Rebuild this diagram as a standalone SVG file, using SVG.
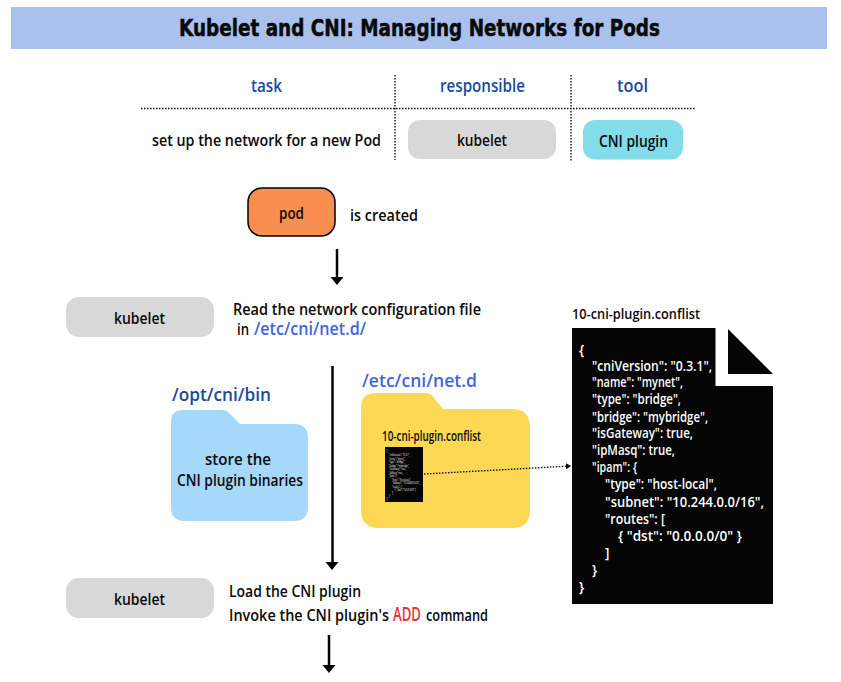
<svg xmlns="http://www.w3.org/2000/svg" width="841" height="682" viewBox="0 0 841 682">
<style>
text{font-family:"Open Sans","Liberation Sans",sans-serif;font-weight:600;fill:#0a0a0a;font-size:16.5px}
.title{font-family:"DejaVu Sans",sans-serif;font-weight:700;font-size:23px;stroke:#000;stroke-width:.5}
.navy{fill:#174a9f;font-size:18px}
.blue{fill:#4264dc;font-size:18px}
.add{fill:#e5333a;font-size:19px}
.code{fill:#fff;font-size:13.5px}
.tiny{fill:#fff;font-size:2.8px;font-weight:400}
.small{font-size:13.5px}
.conn{fill:none;stroke:#000;stroke-width:2.5}
.dot{fill:none;stroke:#111;stroke-width:1.4;stroke-dasharray:1.5 1.5}
</style>
<defs>
<path id="ah" d="M-6.500-8H6.500L0 0Z" fill="#000"/>
<marker id="dothead" markerUnits="userSpaceOnUse" markerWidth="6" markerHeight="6" refX="5" refY="3" orient="auto" viewBox="0 0 6 6"><path d="M0 0L5 3L0 6Z" fill="#000"/></marker>
</defs>
<rect width="841" height="682" fill="#fff"/>
<g id="title"><rect x="11" y="7" width="816" height="42" fill="#a9c1ec"/>
<text class="title" x="179" y="36" textLength="481" lengthAdjust="spacingAndGlyphs">Kubelet and CNI: Managing Networks for Pods</text></g>
<g id="table">
<path class="dot" d="M141 108.500H695M395 75V160M571 75V162"/>
<text class="navy" x="251" y="92" textLength="31" lengthAdjust="spacingAndGlyphs">task</text>
<text class="navy" x="440" y="92" textLength="85" lengthAdjust="spacingAndGlyphs">responsible</text>
<text class="navy" x="617" y="92" textLength="31" lengthAdjust="spacingAndGlyphs">tool</text>
<text x="152" y="146" textLength="229" lengthAdjust="spacingAndGlyphs">set up the network for a new Pod</text>
</g>
<g id="table-kubelet"><rect x="408" y="120" width="148" height="39" rx="12" fill="#d8d8d8"/><text x="457" y="146" textLength="50" lengthAdjust="spacingAndGlyphs">kubelet</text></g>
<g id="table-cni"><rect x="583" y="120" width="100" height="39.500" rx="12" fill="#82dcea"/><text x="599" y="147" textLength="69" lengthAdjust="spacingAndGlyphs">CNI plugin</text></g>
<g id="pod"><rect x="248" y="188" width="87" height="48" rx="14" fill="#f98f4e" stroke="#000" stroke-width="1.500"/><text x="279" y="219" textLength="25" lengthAdjust="spacingAndGlyphs">pod</text></g>
<g id="pod-label"><text x="350" y="221" textLength="68" lengthAdjust="spacingAndGlyphs">is created</text></g>
<g id="kubelet-1"><rect x="66" y="297" width="148" height="40" rx="13" fill="#d8d8d8"/><text x="114" y="324" textLength="51" lengthAdjust="spacingAndGlyphs">kubelet</text></g>
<g id="read-step"><text x="233" y="315" textLength="248" lengthAdjust="spacingAndGlyphs">Read the network configuration file</text>
<text x="237" y="335" textLength="12" lengthAdjust="spacingAndGlyphs">in</text>
<text class="blue" x="254" y="335" textLength="112" lengthAdjust="spacingAndGlyphs">/etc/cni/net.d/</text></g>
<g id="bin-folder">
<text class="navy" x="172" y="401" textLength="99" lengthAdjust="spacingAndGlyphs">/opt/cni/bin</text>
<path d="M183 410H222Q227 410 230 414L240 424H294Q308 424 308 438V507Q308 521 294 521H185Q171 521 171 507V422Q171 410 183 410Z" fill="#a6d8fa"/>
<text x="205" y="465" textLength="66" lengthAdjust="spacingAndGlyphs">store the</text>
<text x="177" y="486" textLength="126" lengthAdjust="spacingAndGlyphs">CNI plugin binaries</text>
</g>
<g id="net-folder">
<text class="blue" x="362" y="387" textLength="115" lengthAdjust="spacingAndGlyphs">/etc/cni/net.d</text>
<path d="M376 393H425Q431 393 434 398L443 409H512Q530 409 530 427V510Q530 528 512 528H379Q361 528 361 510V408Q361 393 376 393Z" fill="#fdd855"/>
<text class="small" x="382" y="441" textLength="99" lengthAdjust="spacingAndGlyphs">10-cni-plugin.conflist</text>
<rect x="385" y="447" width="38" height="55" fill="#050505"/>
<g class="tinydoc">
<text class="tiny" x="386.500" y="452">{</text>
<text class="tiny" x="389" y="456" textLength="21" lengthAdjust="spacingAndGlyphs">"cniVersion": "0.3.1",</text>
<text class="tiny" x="389" y="459.500" textLength="16" lengthAdjust="spacingAndGlyphs">"name": "mynet",</text>
<text class="tiny" x="389" y="463" textLength="16" lengthAdjust="spacingAndGlyphs">"type": "bridge",</text>
<text class="tiny" x="389" y="466.500" textLength="20" lengthAdjust="spacingAndGlyphs">"bridge": "mybridge",</text>
<text class="tiny" x="389" y="470" textLength="17" lengthAdjust="spacingAndGlyphs">"isGateway": true,</text>
<text class="tiny" x="389" y="473.500" textLength="14" lengthAdjust="spacingAndGlyphs">"ipMasq": true,</text>
<text class="tiny" x="389" y="477" textLength="8" lengthAdjust="spacingAndGlyphs">"ipam": {</text>
<text class="tiny" x="392" y="480.500" textLength="19" lengthAdjust="spacingAndGlyphs">"type": "host-local",</text>
<text class="tiny" x="392" y="484" textLength="28" lengthAdjust="spacingAndGlyphs">"subnet": "10.244.0.0/16",</text>
<text class="tiny" x="392" y="487.500" textLength="10" lengthAdjust="spacingAndGlyphs">"routes": [</text>
<text class="tiny" x="395" y="491" textLength="21" lengthAdjust="spacingAndGlyphs">{ "dst": "0.0.0.0/0" }</text>
<text class="tiny" x="392" y="494">]</text>
<text class="tiny" x="389" y="497">}</text>
<text class="tiny" x="386.500" y="500">}</text>
</g>
</g>
<g id="conflist-doc">
<text class="small" x="572" y="319" textLength="128" lengthAdjust="spacingAndGlyphs" style="font-size:15px">10-cni-plugin.conflist</text>
<path d="M572 328H715.500V386H773V604H572Z" fill="#050505"/>
<path d="M728 329L773 374H728Z" fill="#050505"/>
<text class="code" x="579" y="355">{</text>
<text class="code" x="592" y="371" textLength="120" lengthAdjust="spacingAndGlyphs">"cniVersion": "0.3.1",</text>
<text class="code" x="592" y="387" textLength="91" lengthAdjust="spacingAndGlyphs">"name": "mynet",</text>
<text class="code" x="592" y="404" textLength="89" lengthAdjust="spacingAndGlyphs">"type": "bridge",</text>
<text class="code" x="592" y="421.500" textLength="116" lengthAdjust="spacingAndGlyphs">"bridge": "mybridge",</text>
<text class="code" x="592" y="438" textLength="101" lengthAdjust="spacingAndGlyphs">"isGateway": true,</text>
<text class="code" x="592" y="455" textLength="83" lengthAdjust="spacingAndGlyphs">"ipMasq": true,</text>
<text class="code" x="592" y="472" textLength="45" lengthAdjust="spacingAndGlyphs">"ipam": {</text>
<text class="code" x="605" y="489" textLength="112" lengthAdjust="spacingAndGlyphs">"type": "host-local",</text>
<text class="code" x="605" y="507" textLength="159" lengthAdjust="spacingAndGlyphs">"subnet": "10.244.0.0/16",</text>
<text class="code" x="605" y="524" textLength="60" lengthAdjust="spacingAndGlyphs">"routes": [</text>
<text class="code" x="618" y="541" textLength="124" lengthAdjust="spacingAndGlyphs">{ "dst": "0.0.0.0/0" }</text>
<text class="code" x="605" y="558">]</text>
<text class="code" x="592" y="575">}</text>
<text class="code" x="579" y="592">}</text>
</g>
<g id="kubelet-2"><rect x="66" y="578" width="148" height="40" rx="13" fill="#d8d8d8"/><text x="114" y="605" textLength="51" lengthAdjust="spacingAndGlyphs">kubelet</text></g>
<g id="load-step"><text x="229" y="597" textLength="132" lengthAdjust="spacingAndGlyphs">Load the CNI plugin</text>
<text x="229" y="621" textLength="160" lengthAdjust="spacingAndGlyphs">Invoke the CNI plugin's</text>
<text class="add" x="393" y="621" textLength="28" lengthAdjust="spacingAndGlyphs">ADD</text>
<text x="426" y="621" textLength="62" lengthAdjust="spacingAndGlyphs">command</text></g>
<g id="connectors">
<path class="conn" d="M337 249V278"/><use href="#ah" x="337" y="285"/>
<path class="conn" d="M332.500 366V562"/><use href="#ah" x="332" y="570"/>
<path class="conn" d="M329 635V666"/><use href="#ah" x="329" y="673"/>
<path class="dot" d="M424 474L571 466" marker-end="url(#dothead)"/>
</g>
</svg>
